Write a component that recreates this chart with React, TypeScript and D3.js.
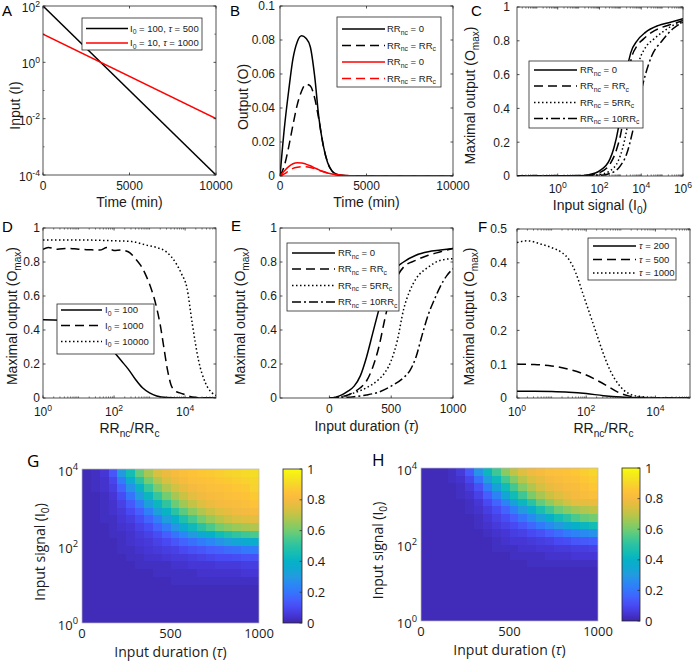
import React from 'react';
import * as d3 from 'd3';

const FONT = '"Liberation Sans", Arial, Helvetica, sans-serif';
const FONT_HM = '"Open Sans", "Liberation Sans", sans-serif';
const AXIS = '#262626';
const TXT = '#1a1a1a';

// ---------------- Panel A ----------------
const aTime = [0, 10000];
const aBlack = [100, 0.0001];
const aRed = [10, 0.01];

// ---------------- Panel B ----------------
const bTime = [0, 250, 500, 750, 1000, 1250, 1500, 1750, 2000, 2250, 2500, 2750, 3000, 3250, 3500, 4000, 5000, 10000];
const bBlackSolid = [0, 0.028, 0.05, 0.069, 0.079, 0.0825, 0.081, 0.076, 0.059, 0.034, 0.018, 0.008, 0.003, 0.0012, 0.0004, 0.0001, 0, 0];
const bBlackDashed = [0, 0.006, 0.017, 0.03, 0.042, 0.05, 0.054, 0.053, 0.046, 0.033, 0.018, 0.008, 0.003, 0.0012, 0.0004, 0.0001, 0, 0];
const bRedSolid = [0, 0.003, 0.0055, 0.0072, 0.0078, 0.0077, 0.007, 0.006, 0.0048, 0.0036, 0.0026, 0.0018, 0.0012, 0.0008, 0.0005, 0.0002, 0, 0];
const bRedDashed = [0, 0.0012, 0.003, 0.0045, 0.0052, 0.0055, 0.0054, 0.005, 0.0043, 0.0034, 0.0025, 0.0018, 0.0012, 0.0008, 0.0005, 0.0002, 0, 0];

// ---------------- Panel C (x = log10 I0) ----------------
const cSolidX = [-2, 0, 1, 1.5, 2, 2.5, 2.7, 2.9, 3.1, 3.3, 3.5, 3.8, 4.2, 4.8, 5.4, 6];
const cSolidY = [0, 0, 0.002, 0.008, 0.03, 0.1, 0.17, 0.28, 0.45, 0.62, 0.73, 0.8, 0.85, 0.89, 0.91, 0.93];
const cDashX = [-2, 1, 1.5, 2, 2.5, 2.8, 3.05, 3.3, 3.5, 3.8, 4.1, 4.5, 5, 5.5, 6];
const cDashY = [0, 0.001, 0.005, 0.02, 0.07, 0.15, 0.27, 0.5, 0.68, 0.77, 0.81, 0.85, 0.88, 0.9, 0.92];
const cDotX = [-2, 1.5, 2, 2.5, 2.9, 3.1, 3.3, 3.6, 3.9, 4.2, 4.6, 5, 5.5, 6];
const cDotY = [0, 0.002, 0.008, 0.03, 0.09, 0.16, 0.27, 0.5, 0.68, 0.76, 0.81, 0.85, 0.89, 0.91];
const cDashDotX = [-2, 2, 2.5, 3, 3.3, 3.6, 3.9, 4.2, 4.5, 5, 5.5, 6];
const cDashDotY = [0, 0.004, 0.015, 0.06, 0.13, 0.27, 0.45, 0.6, 0.71, 0.8, 0.87, 0.91];

// ---------------- Panel D (x = log10 RRnc/RRc) ----------------
const dSolidX = [0, 0.5, 1, 1.3, 1.6, 1.8, 2, 2.2, 2.4, 2.6, 2.8, 3, 3.2, 3.5, 4, 4.87];
const dSolidY = [0.46, 0.458, 0.45, 0.42, 0.37, 0.32, 0.27, 0.22, 0.17, 0.11, 0.06, 0.03, 0.012, 0.003, 0, 0];
const dDashX = [0, 0.15, 0.4, 0.7, 1, 1.3, 1.6, 1.8, 2, 2.2, 2.4, 2.6, 2.75, 2.9, 3.05, 3.2, 3.3, 3.4, 3.5, 3.6, 3.7, 3.85, 4, 4.2, 4.5, 4.87];
const dDashY = [0.875, 0.885, 0.875, 0.88, 0.875, 0.872, 0.87, 0.885, 0.868, 0.87, 0.86, 0.82, 0.78, 0.72, 0.64, 0.53, 0.43, 0.3, 0.17, 0.08, 0.045, 0.03, 0.02, 0.006, 0.001, 0];
const dDotX = [0, 0.5, 1, 1.5, 2, 2.5, 2.9, 3.2, 3.47, 3.75, 3.9, 4.05, 4.2, 4.38, 4.57, 4.76, 4.87];
const dDotY = [0.93, 0.93, 0.93, 0.928, 0.925, 0.92, 0.9, 0.885, 0.86, 0.79, 0.73, 0.65, 0.44, 0.22, 0.09, 0.03, 0.015];

// ---------------- Panel E (x = tau) ----------------
const eSolidX = [0, 50, 100, 150, 200, 250, 300, 350, 400, 450, 500, 600, 700, 800, 900, 1000];
const eSolidY = [0, 0.005, 0.018, 0.04, 0.07, 0.13, 0.24, 0.38, 0.52, 0.65, 0.73, 0.8, 0.84, 0.86, 0.87, 0.88];
const eDashX = [0, 50, 100, 150, 200, 250, 300, 350, 400, 450, 500, 600, 700, 800, 900, 1000];
const eDashY = [0, 0.002, 0.008, 0.018, 0.035, 0.06, 0.1, 0.18, 0.3, 0.47, 0.62, 0.77, 0.81, 0.84, 0.86, 0.88];
const eDotX = [0, 100, 200, 300, 400, 450, 500, 550, 600, 650, 700, 800, 900, 1000];
const eDotY = [0, 0.008, 0.03, 0.06, 0.11, 0.15, 0.22, 0.34, 0.52, 0.63, 0.7, 0.77, 0.81, 0.82];
const eDashDotX = [0, 100, 200, 300, 400, 500, 600, 650, 700, 750, 800, 850, 900, 950, 1000];
const eDashDotY = [0, 0.002, 0.008, 0.018, 0.035, 0.07, 0.12, 0.16, 0.24, 0.37, 0.49, 0.58, 0.66, 0.72, 0.76];

// ---------------- Panel F (x = log10 RRnc/RRc) ----------------
const fSolidX = [0, 0.5, 1, 1.5, 2, 2.5, 3, 3.5, 4, 5];
const fSolidY = [0.02, 0.0198, 0.019, 0.017, 0.013, 0.007, 0.003, 0.001, 0.0002, 0];
const fDashX = [0, 0.5, 1, 1.5, 2, 2.3, 2.6, 2.9, 3.2, 3.5, 4, 5];
const fDashY = [0.1, 0.099, 0.095, 0.085, 0.068, 0.053, 0.036, 0.018, 0.007, 0.002, 0, 0];
const fDotX = [0, 0.3, 0.7, 1, 1.3, 1.5, 1.7, 1.9, 2.1, 2.3, 2.5, 2.7, 2.9, 3.1, 3.3, 3.6, 4, 5];
const fDotY = [0.46, 0.465, 0.455, 0.445, 0.43, 0.41, 0.37, 0.31, 0.25, 0.19, 0.13, 0.08, 0.045, 0.022, 0.01, 0.004, 0.001, 0];

// ---------------- Heatmaps (rows top = I0 1e4 -> bottom = 1e0; cols tau 0 -> 1000) ----------------
const heatTauEdges = [0, 50, 100, 150, 200, 250, 300, 350, 400, 450, 500, 550, 600, 650, 700, 750, 800, 850, 900, 950, 1000];
const heatLogI0Edges = [4, 3.8, 3.6, 3.4, 3.2, 3, 2.8, 2.6, 2.4, 2.2, 2, 1.8, 1.6, 1.4, 1.2, 1, 0.8, 0.6, 0.4, 0.2, 0];
const heatG = [
  [0.02, 0.03, 0.05, 0.13, 0.30, 0.45, 0.58, 0.67, 0.74, 0.78, 0.81, 0.83, 0.85, 0.86, 0.87, 0.88, 0.89, 0.90, 0.91, 0.92],
  [0.02, 0.03, 0.04, 0.09, 0.22, 0.37, 0.50, 0.60, 0.68, 0.74, 0.78, 0.81, 0.83, 0.84, 0.85, 0.86, 0.87, 0.88, 0.89, 0.90],
  [0.02, 0.03, 0.04, 0.07, 0.16, 0.28, 0.41, 0.52, 0.61, 0.68, 0.73, 0.77, 0.80, 0.82, 0.83, 0.84, 0.85, 0.86, 0.87, 0.89],
  [0.02, 0.02, 0.03, 0.05, 0.11, 0.20, 0.31, 0.42, 0.52, 0.60, 0.67, 0.72, 0.76, 0.79, 0.81, 0.82, 0.83, 0.84, 0.85, 0.87],
  [0.02, 0.02, 0.03, 0.04, 0.08, 0.14, 0.22, 0.32, 0.42, 0.51, 0.59, 0.66, 0.71, 0.75, 0.78, 0.80, 0.81, 0.82, 0.83, 0.85],
  [0.02, 0.02, 0.03, 0.04, 0.06, 0.10, 0.15, 0.23, 0.32, 0.41, 0.50, 0.57, 0.63, 0.68, 0.72, 0.75, 0.77, 0.79, 0.80, 0.81],
  [0.02, 0.02, 0.03, 0.03, 0.05, 0.07, 0.11, 0.16, 0.23, 0.31, 0.39, 0.47, 0.54, 0.60, 0.65, 0.69, 0.72, 0.74, 0.75, 0.76],
  [0.02, 0.02, 0.02, 0.03, 0.04, 0.05, 0.08, 0.11, 0.16, 0.22, 0.29, 0.36, 0.43, 0.50, 0.55, 0.60, 0.63, 0.65, 0.67, 0.68],
  [0.02, 0.02, 0.02, 0.03, 0.03, 0.04, 0.06, 0.08, 0.11, 0.15, 0.20, 0.25, 0.30, 0.35, 0.40, 0.44, 0.48, 0.51, 0.53, 0.55],
  [0.02, 0.02, 0.02, 0.02, 0.03, 0.04, 0.05, 0.06, 0.08, 0.10, 0.13, 0.16, 0.19, 0.22, 0.25, 0.28, 0.31, 0.34, 0.36, 0.38],
  [0.02, 0.02, 0.02, 0.02, 0.03, 0.03, 0.04, 0.05, 0.06, 0.07, 0.08, 0.10, 0.12, 0.13, 0.15, 0.16, 0.18, 0.19, 0.21, 0.22],
  [0.02, 0.02, 0.02, 0.02, 0.02, 0.03, 0.03, 0.04, 0.04, 0.05, 0.06, 0.06, 0.07, 0.08, 0.09, 0.10, 0.10, 0.11, 0.12, 0.12],
  [0.02, 0.02, 0.02, 0.02, 0.02, 0.02, 0.03, 0.03, 0.03, 0.03, 0.04, 0.04, 0.05, 0.05, 0.05, 0.06, 0.06, 0.06, 0.07, 0.07],
  [0.02, 0.02, 0.02, 0.02, 0.02, 0.02, 0.02, 0.02, 0.03, 0.03, 0.03, 0.03, 0.03, 0.04, 0.04, 0.04, 0.04, 0.04, 0.05, 0.05],
  [0.02, 0.02, 0.02, 0.02, 0.02, 0.02, 0.02, 0.02, 0.02, 0.02, 0.03, 0.03, 0.03, 0.03, 0.03, 0.03, 0.03, 0.03, 0.03, 0.03],
  [0.02, 0.02, 0.02, 0.02, 0.02, 0.02, 0.02, 0.02, 0.02, 0.02, 0.02, 0.02, 0.02, 0.02, 0.02, 0.02, 0.02, 0.02, 0.02, 0.02],
  [0.02, 0.02, 0.02, 0.02, 0.02, 0.02, 0.02, 0.02, 0.02, 0.02, 0.02, 0.02, 0.02, 0.02, 0.02, 0.02, 0.02, 0.02, 0.02, 0.02],
  [0.02, 0.02, 0.02, 0.02, 0.02, 0.02, 0.02, 0.02, 0.02, 0.02, 0.02, 0.02, 0.02, 0.02, 0.02, 0.02, 0.02, 0.02, 0.02, 0.02],
  [0.02, 0.02, 0.02, 0.02, 0.02, 0.02, 0.02, 0.02, 0.02, 0.02, 0.02, 0.02, 0.02, 0.02, 0.02, 0.02, 0.02, 0.02, 0.02, 0.02],
  [0.02, 0.02, 0.02, 0.02, 0.02, 0.02, 0.02, 0.02, 0.02, 0.02, 0.02, 0.02, 0.02, 0.02, 0.02, 0.02, 0.02, 0.02, 0.02, 0.02],
];
const heatH = [
  [0.02, 0.02, 0.02, 0.03, 0.06, 0.14, 0.28, 0.42, 0.53, 0.63, 0.70, 0.75, 0.79, 0.81, 0.83, 0.84, 0.85, 0.86, 0.88, 0.90],
  [0.02, 0.02, 0.02, 0.03, 0.04, 0.09, 0.19, 0.31, 0.43, 0.54, 0.62, 0.69, 0.74, 0.77, 0.80, 0.82, 0.83, 0.84, 0.86, 0.88],
  [0.02, 0.02, 0.02, 0.02, 0.03, 0.06, 0.12, 0.22, 0.33, 0.44, 0.54, 0.62, 0.68, 0.73, 0.77, 0.79, 0.81, 0.82, 0.84, 0.86],
  [0.02, 0.02, 0.02, 0.02, 0.03, 0.04, 0.08, 0.15, 0.24, 0.34, 0.44, 0.53, 0.61, 0.67, 0.72, 0.75, 0.78, 0.80, 0.82, 0.83],
  [0.02, 0.02, 0.02, 0.02, 0.02, 0.03, 0.05, 0.10, 0.16, 0.24, 0.33, 0.42, 0.50, 0.58, 0.64, 0.69, 0.73, 0.76, 0.77, 0.78],
  [0.02, 0.02, 0.02, 0.02, 0.02, 0.03, 0.04, 0.07, 0.11, 0.16, 0.23, 0.30, 0.38, 0.46, 0.53, 0.59, 0.63, 0.66, 0.68, 0.70],
  [0.02, 0.02, 0.02, 0.02, 0.02, 0.02, 0.03, 0.05, 0.08, 0.11, 0.15, 0.20, 0.26, 0.32, 0.39, 0.45, 0.50, 0.55, 0.58, 0.60],
  [0.02, 0.02, 0.02, 0.02, 0.02, 0.02, 0.03, 0.04, 0.06, 0.08, 0.10, 0.13, 0.17, 0.21, 0.26, 0.30, 0.35, 0.39, 0.42, 0.45],
  [0.02, 0.02, 0.02, 0.02, 0.02, 0.02, 0.02, 0.03, 0.04, 0.05, 0.07, 0.08, 0.10, 0.12, 0.15, 0.18, 0.21, 0.24, 0.26, 0.28],
  [0.02, 0.02, 0.02, 0.02, 0.02, 0.02, 0.02, 0.02, 0.03, 0.04, 0.05, 0.05, 0.06, 0.07, 0.08, 0.10, 0.11, 0.13, 0.14, 0.15],
  [0.02, 0.02, 0.02, 0.02, 0.02, 0.02, 0.02, 0.02, 0.03, 0.03, 0.03, 0.04, 0.04, 0.05, 0.05, 0.06, 0.06, 0.07, 0.07, 0.08],
  [0.02, 0.02, 0.02, 0.02, 0.02, 0.02, 0.02, 0.02, 0.02, 0.02, 0.03, 0.03, 0.03, 0.03, 0.04, 0.04, 0.04, 0.05, 0.05, 0.05],
  [0.02, 0.02, 0.02, 0.02, 0.02, 0.02, 0.02, 0.02, 0.02, 0.02, 0.02, 0.02, 0.03, 0.03, 0.03, 0.03, 0.03, 0.03, 0.03, 0.03],
  [0.02, 0.02, 0.02, 0.02, 0.02, 0.02, 0.02, 0.02, 0.02, 0.02, 0.02, 0.02, 0.02, 0.02, 0.02, 0.02, 0.02, 0.02, 0.02, 0.02],
  [0.02, 0.02, 0.02, 0.02, 0.02, 0.02, 0.02, 0.02, 0.02, 0.02, 0.02, 0.02, 0.02, 0.02, 0.02, 0.02, 0.02, 0.02, 0.02, 0.02],
  [0.02, 0.02, 0.02, 0.02, 0.02, 0.02, 0.02, 0.02, 0.02, 0.02, 0.02, 0.02, 0.02, 0.02, 0.02, 0.02, 0.02, 0.02, 0.02, 0.02],
  [0.02, 0.02, 0.02, 0.02, 0.02, 0.02, 0.02, 0.02, 0.02, 0.02, 0.02, 0.02, 0.02, 0.02, 0.02, 0.02, 0.02, 0.02, 0.02, 0.02],
  [0.02, 0.02, 0.02, 0.02, 0.02, 0.02, 0.02, 0.02, 0.02, 0.02, 0.02, 0.02, 0.02, 0.02, 0.02, 0.02, 0.02, 0.02, 0.02, 0.02],
  [0.02, 0.02, 0.02, 0.02, 0.02, 0.02, 0.02, 0.02, 0.02, 0.02, 0.02, 0.02, 0.02, 0.02, 0.02, 0.02, 0.02, 0.02, 0.02, 0.02],
  [0.02, 0.02, 0.02, 0.02, 0.02, 0.02, 0.02, 0.02, 0.02, 0.02, 0.02, 0.02, 0.02, 0.02, 0.02, 0.02, 0.02, 0.02, 0.02, 0.02],
];
const colorbarTicks = [0, 0.2, 0.4, 0.6, 0.8, 1];
// parula colormap (original MATLAB variant), stops at 0, 0.05, ..., 1
const parulaStops = [
  '#3e26a8', '#4536d5', '#4849f2', '#455efd', '#3575fc', '#2b87f5', '#239ae0', '#0fa8d1', '#06b1c7', '#14bdb3',
  '#2bc2a3', '#4ac98c', '#73cc70', '#99c959', '#bfc447', '#debf40', '#f5ba40', '#fec238', '#f7d62b', '#f5e81c', '#f9fb0e',
];

// ---------------- helpers ----------------
const DASHED = '9,5';
const DOTTED = '1.5,2.5';
const DASHDOT = '9,3,2,3';

type Part = string | [string, string];
function rich(parts: Part[], fs: number) {
  let cur = 0;
  return parts.map((p, i) => {
    const txt = typeof p === 'string' ? p : p[0];
    const kind = typeof p === 'string' ? 'n' : p[1];
    const target = kind === 'sub' ? fs * 0.3 : kind === 'sup' ? -fs * 0.45 : 0;
    const dy = target - cur;
    cur = target;
    return (
      <tspan key={i} dy={dy !== 0 ? dy : undefined}
        fontSize={kind === 'sub' || kind === 'sup' ? fs * 0.72 : undefined}
        fontStyle={kind === 'it' ? 'italic' : undefined}>{txt}</tspan>
    );
  });
}
const pow = (e: number, fs: number) => rich(['10', [String(e), 'sup']], fs);

function logMinor(lo: number, hi: number, majorsExp: number[]) {
  const out: number[] = [];
  for (let d = Math.floor(lo); d <= Math.ceil(hi); d++) {
    for (let k = 1; k <= 9; k++) {
      const v = k * Math.pow(10, d);
      const e = Math.log10(v);
      if (e < lo - 1e-9 || e > hi + 1e-9) continue;
      if (k === 1 && majorsExp.includes(d)) continue;
      out.push(v);
    }
  }
  return out;
}

type Line = { x: number[]; y: number[]; color: string; dash?: string };
type Tick = { v: number; label: any };
type Cfg = {
  id: string; l: number; r: number; t: number; b: number;
  x: any; y: any;
  xTicks: Tick[]; yTicks: Tick[]; xMinor?: number[]; yMinor?: number[];
  xTickY: number; yTickX: number; yTickDy: number;
  lines: Line[];
  leg: { l: number; r: number; t: number; b: number; lx0: number; lx1: number; tx: number; ys: number[]; items: { color: string; dash?: string; label: any }[] };
  xLabel: any; xLabelY: number; yLabel: any; yLabelX: number; yLabelOff: number;
  letter: string; letterX: number; letterY: number;
};

const TFS = 12; // tick font
const LFS = 14; // label font
const GFS = 9.5; // legend font

function Panel({ c }: { c: Cfg }) {
  const gen = d3.line<[number, number]>().x(d => c.x(d[0])).y(d => c.y(d[1])).curve(d3.curveMonotoneX);
  const TL = 2.5, TM = 1.6;
  const cx = (c.l + c.r) / 2, cy = (c.t + c.b) / 2;
  return (
    <g>
      <defs>
        <clipPath id={'clip' + c.id}><rect x={c.l} y={c.t} width={c.r - c.l} height={c.b - c.t} /></clipPath>
      </defs>
      <g clipPath={`url(#clip${c.id})`}>
        {c.lines.map((ln, i) => (
          <path key={i} d={gen(ln.x.map((xv, j) => [xv, ln.y[j]] as [number, number])) || ''}
            fill="none" stroke={ln.color} strokeWidth={1.5} strokeDasharray={ln.dash} />
        ))}
      </g>
      <rect x={c.l} y={c.t} width={c.r - c.l} height={c.b - c.t} fill="none" stroke={AXIS} strokeWidth={0.8} />
      {c.xTicks.map((tk, i) => {
        const px = c.x(tk.v);
        return (
          <g key={'xt' + i}>
            <line x1={px} x2={px} y1={c.b} y2={c.b - TL} stroke={AXIS} strokeWidth={0.8} />
            <line x1={px} x2={px} y1={c.t} y2={c.t + TL} stroke={AXIS} strokeWidth={0.8} />
            <text x={px} y={c.xTickY} textAnchor="middle" fontSize={TFS} fill={TXT}>{tk.label}</text>
          </g>
        );
      })}
      {(c.xMinor || []).map((v, i) => {
        const px = c.x(v);
        return (
          <g key={'xm' + i}>
            <line x1={px} x2={px} y1={c.b} y2={c.b - TM} stroke={AXIS} strokeWidth={0.6} />
            <line x1={px} x2={px} y1={c.t} y2={c.t + TM} stroke={AXIS} strokeWidth={0.6} />
          </g>
        );
      })}
      {c.yTicks.map((tk, i) => {
        const py = c.y(tk.v);
        return (
          <g key={'yt' + i}>
            <line x1={c.l} x2={c.l + TL} y1={py} y2={py} stroke={AXIS} strokeWidth={0.8} />
            <line x1={c.r} x2={c.r - TL} y1={py} y2={py} stroke={AXIS} strokeWidth={0.8} />
            <text x={c.yTickX} y={py + c.yTickDy} textAnchor="end" fontSize={TFS} fill={TXT}>{tk.label}</text>
          </g>
        );
      })}
      {(c.yMinor || []).map((v, i) => {
        const py = c.y(v);
        return (
          <g key={'ym' + i}>
            <line x1={c.l} x2={c.l + TM} y1={py} y2={py} stroke={AXIS} strokeWidth={0.6} />
            <line x1={c.r} x2={c.r - TM} y1={py} y2={py} stroke={AXIS} strokeWidth={0.6} />
          </g>
        );
      })}
      <rect x={c.leg.l} y={c.leg.t} width={c.leg.r - c.leg.l} height={c.leg.b - c.leg.t} fill="#fff" stroke={AXIS} strokeWidth={0.8} />
      {c.leg.items.map((it, i) => (
        <g key={'lg' + i}>
          <line x1={c.leg.lx0} x2={c.leg.lx1} y1={c.leg.ys[i]} y2={c.leg.ys[i]} stroke={it.color} strokeWidth={1.5} strokeDasharray={it.dash} />
          <text x={c.leg.tx} y={c.leg.ys[i] + 3} fontSize={GFS} fill={TXT}>{it.label}</text>
        </g>
      ))}
      <text x={cx} y={c.xLabelY} textAnchor="middle" fontSize={LFS} fill={TXT}>{c.xLabel}</text>
      <text transform={`translate(${c.yLabelX},${cy + c.yLabelOff}) rotate(-90)`} dy="0.35em" textAnchor="middle" fontSize={LFS} fill={TXT}>{c.yLabel}</text>
      <text x={c.letterX} y={c.letterY} fontSize={15} fill="#000">{c.letter}</text>
    </g>
  );
}

const lin = (arr: number[]) => arr;
const exp10 = (arr: number[]) => arr.map(e => Math.pow(10, e));

const rrLabels = [
  rich(['RR', ['nc', 'sub'], ' = 0'], GFS),
  rich(['RR', ['nc', 'sub'], ' = RR', ['c', 'sub']], GFS),
  rich(['RR', ['nc', 'sub'], ' = 5RR', ['c', 'sub']], GFS),
  rich(['RR', ['nc', 'sub'], ' = 10RR', ['c', 'sub']], GFS),
];
const omaxLabel = rich(['Maximal output (O', ['max', 'sub'], ')'], LFS);
const rrRatioLabel = rich(['RR', ['nc', 'sub'], '/RR', ['c', 'sub']], LFS);
const tauLabel = rich(['Input duration (', ['τ', 'it'], ')'], LFS);
const yTicks01 = [0, 0.2, 0.4, 0.6, 0.8, 1].map(v => ({ v, label: String(v) }));

function buildPanels(): Cfg[] {
  const A: Cfg = {
    id: 'A', l: 43, r: 216, t: 6, b: 175,
    x: d3.scaleLinear().domain([0, 10000]).range([43, 216]),
    y: d3.scaleLog().domain([1e-4, 1e2]).range([175, 6]),
    xTicks: [0, 5000, 10000].map(v => ({ v, label: String(v) })),
    yTicks: [-4, -2, 0, 2].map(e => ({ v: Math.pow(10, e), label: pow(e, TFS) })),
    yMinor: [-3, -1, 1].map(e => Math.pow(10, e)),
    xTickY: 190, yTickX: 40, yTickDy: 6,
    lines: [
      { x: lin(aTime), y: aBlack, color: '#000' },
      { x: lin(aTime), y: aRed, color: '#ff0000' },
    ],
    leg: {
      l: 82, r: 202, t: 18, b: 50, lx0: 86, lx1: 128, tx: 130, ys: [28.5, 43],
      items: [
        { color: '#000', label: rich(['I', ['0', 'sub'], ' = 100, ', ['τ', 'it'], ' = 500'], GFS) },
        { color: '#ff0000', label: rich(['I', ['0', 'sub'], ' = 10, ', ['τ', 'it'], ' = 1000'], GFS) },
      ],
    },
    xLabel: 'Time (min)', xLabelY: 207, yLabel: 'Input (I)', yLabelX: 15, yLabelOff: 15,
    letter: 'A', letterX: 2, letterY: 16,
  };
  const B: Cfg = {
    id: 'B', l: 280, r: 453, t: 6, b: 176,
    x: d3.scaleLinear().domain([0, 10000]).range([280, 453]),
    y: d3.scaleLinear().domain([0, 0.1]).range([176, 6]),
    xTicks: [0, 5000, 10000].map(v => ({ v, label: String(v) })),
    yTicks: [0, 0.02, 0.04, 0.06, 0.08, 0.1].map(v => ({ v, label: String(v) })),
    xTickY: 190, yTickX: 275, yTickDy: 4.3,
    lines: [
      { x: bTime, y: bBlackSolid, color: '#000' },
      { x: bTime, y: bBlackDashed, color: '#000', dash: DASHED },
      { x: bTime, y: bRedSolid, color: '#ff0000' },
      { x: bTime, y: bRedDashed, color: '#ff0000', dash: DASHED },
    ],
    leg: {
      l: 337, r: 441, t: 17, b: 87, lx0: 342, lx1: 385, tx: 387, ys: [29, 45.5, 62, 78.5],
      items: [
        { color: '#000', label: rrLabels[0] },
        { color: '#000', dash: DASHED, label: rrLabels[1] },
        { color: '#ff0000', label: rrLabels[0] },
        { color: '#ff0000', dash: DASHED, label: rrLabels[1] },
      ],
    },
    xLabel: 'Time (min)', xLabelY: 207, yLabel: 'Output (O)', yLabelX: 243, yLabelOff: 6,
    letter: 'B', letterX: 230, letterY: 16,
  };
  const cLo = -1.95, cHi = 6;
  const C: Cfg = {
    id: 'C', l: 517, r: 683, t: 7, b: 176,
    x: d3.scaleLog().domain([Math.pow(10, cLo), 1e6]).range([517, 683]),
    y: d3.scaleLinear().domain([0, 1]).range([176, 7]),
    xTicks: [0, 2, 4, 6].map(e => ({ v: Math.pow(10, e), label: pow(e, TFS) })),
    xMinor: logMinor(cLo, cHi, [0, 2, 4, 6]),
    yTicks: yTicks01,
    xTickY: 193, yTickX: 510, yTickDy: 4.3,
    lines: [
      { x: exp10(cSolidX), y: cSolidY, color: '#000' },
      { x: exp10(cDashX), y: cDashY, color: '#000', dash: DASHED },
      { x: exp10(cDotX), y: cDotY, color: '#000', dash: DOTTED },
      { x: exp10(cDashDotX), y: cDashDotY, color: '#000', dash: DASHDOT },
    ],
    leg: {
      l: 529, r: 643, t: 61, b: 128, lx0: 534, lx1: 577, tx: 580, ys: [70, 86, 102.5, 118.5],
      items: [
        { color: '#000', label: rrLabels[0] },
        { color: '#000', dash: DASHED, label: rrLabels[1] },
        { color: '#000', dash: DOTTED, label: rrLabels[2] },
        { color: '#000', dash: DASHDOT, label: rrLabels[3] },
      ],
    },
    xLabel: rich(['Input signal (I', ['0', 'sub'], ')'], LFS), xLabelY: 210, yLabel: omaxLabel, yLabelX: 470, yLabelOff: 4,
    letter: 'C', letterX: 471, letterY: 16,
  };
  const dHi = 4.87;
  const D: Cfg = {
    id: 'D', l: 43, r: 216, t: 228, b: 398,
    x: d3.scaleLog().domain([1, Math.pow(10, dHi)]).range([43, 216]),
    y: d3.scaleLinear().domain([0, 1]).range([398, 228]),
    xTicks: [0, 2, 4].map(e => ({ v: Math.pow(10, e), label: pow(e, TFS) })),
    xMinor: logMinor(0, dHi, [0, 2, 4]),
    yTicks: yTicks01,
    xTickY: 416, yTickX: 40, yTickDy: 4.3,
    lines: [
      { x: exp10(dSolidX), y: dSolidY, color: '#000' },
      { x: exp10(dDashX), y: dDashY, color: '#000', dash: DASHED },
      { x: exp10(dDotX), y: dDotY, color: '#000', dash: DOTTED },
    ],
    leg: {
      l: 57, r: 154, t: 304, b: 354, lx0: 61, lx1: 102, tx: 105, ys: [310, 325.5, 341.5],
      items: [
        { color: '#000', label: rich(['I', ['0', 'sub'], ' = 100'], GFS) },
        { color: '#000', dash: DASHED, label: rich(['I', ['0', 'sub'], ' = 1000'], GFS) },
        { color: '#000', dash: DOTTED, label: rich(['I', ['0', 'sub'], ' = 10000'], GFS) },
      ],
    },
    xLabel: rrRatioLabel, xLabelY: 433, yLabel: omaxLabel, yLabelX: 12, yLabelOff: 3,
    letter: 'D', letterX: 2, letterY: 232,
  };
  const E: Cfg = {
    id: 'E', l: 280, r: 453, t: 228, b: 398,
    x: d3.scaleLinear().domain([-400, 1000]).range([280, 453]),
    y: d3.scaleLinear().domain([0, 1]).range([398, 228]),
    xTicks: [0, 500, 1000].map(v => ({ v, label: String(v) })),
    yTicks: yTicks01,
    xTickY: 413, yTickX: 277, yTickDy: 4.3,
    lines: [
      { x: eSolidX, y: eSolidY, color: '#000' },
      { x: eDashX, y: eDashY, color: '#000', dash: DASHED },
      { x: eDotX, y: eDotY, color: '#000', dash: DOTTED },
      { x: eDashDotX, y: eDashDotY, color: '#000', dash: DASHDOT },
    ],
    leg: {
      l: 287, r: 399, t: 243, b: 311, lx0: 292, lx1: 335, tx: 338, ys: [253, 269, 285.5, 302],
      items: [
        { color: '#000', label: rrLabels[0] },
        { color: '#000', dash: DASHED, label: rrLabels[1] },
        { color: '#000', dash: DOTTED, label: rrLabels[2] },
        { color: '#000', dash: DASHDOT, label: rrLabels[3] },
      ],
    },
    xLabel: tauLabel, xLabelY: 431, yLabel: omaxLabel, yLabelX: 240, yLabelOff: 3,
    letter: 'E', letterX: 231, letterY: 231,
  };
  const F: Cfg = {
    id: 'F', l: 517, r: 690, t: 229, b: 398,
    x: d3.scaleLog().domain([1, 1e5]).range([517, 690]),
    y: d3.scaleLinear().domain([0, 0.5]).range([398, 229]),
    xTicks: [0, 2, 4].map(e => ({ v: Math.pow(10, e), label: pow(e, TFS) })),
    xMinor: logMinor(0, 5, [0, 2, 4]),
    yTicks: [0, 0.1, 0.2, 0.3, 0.4, 0.5].map(v => ({ v, label: String(v) })),
    xTickY: 416, yTickX: 507, yTickDy: 4.3,
    lines: [
      { x: exp10(fSolidX), y: fSolidY, color: '#000' },
      { x: exp10(fDashX), y: fDashY, color: '#000', dash: DASHED },
      { x: exp10(fDotX), y: fDotY, color: '#000', dash: DOTTED },
    ],
    leg: {
      l: 588, r: 676, t: 238, b: 280, lx0: 593, lx1: 636, tx: 639, ys: [246, 259.5, 273],
      items: [
        { color: '#000', label: rich([['τ', 'it'], ' = 200'], GFS) },
        { color: '#000', dash: DASHED, label: rich([['τ', 'it'], ' = 500'], GFS) },
        { color: '#000', dash: DOTTED, label: rich([['τ', 'it'], ' = 1000'], GFS) },
      ],
    },
    xLabel: rrRatioLabel, xLabelY: 433, yLabel: omaxLabel, yLabelX: 469, yLabelOff: 3,
    letter: 'F', letterX: 478, letterY: 232,
  };
  return [A, B, C, D, E, F];
}

const parula = d3.scaleLinear<string>()
  .domain(parulaStops.map((_, i) => i / (parulaStops.length - 1)))
  .range(parulaStops)
  .interpolate(d3.interpolateRgb)
  .clamp(true);

type HCfg = {
  id: string; data: number[][]; l: number; r: number; t: number; b: number;
  cbL: number; cbR: number; cbLabelX: number; yTickX: number; yLabelX: number;
  letter: string; letterX: number;
};

const HT = 13, HL = 14;

function Heat({ h }: { h: HCfg }) {
  const xs = d3.scaleLinear().domain([0, 1000]).range([h.l, h.r]);
  const ys = d3.scaleLog().domain([1, 1e4]).range([h.b, h.t]);
  const cs = d3.scaleLinear().domain([0, 1]).range([h.b, h.t]);
  const cells: any[] = [];
  h.data.forEach((row, ri) => {
    row.forEach((v, ci) => {
      const x0 = xs(heatTauEdges[ci]), x1 = xs(heatTauEdges[ci + 1]);
      const y0 = ys(Math.pow(10, heatLogI0Edges[ri])), y1 = ys(Math.pow(10, heatLogI0Edges[ri + 1]));
      cells.push(<rect key={ri + '-' + ci} x={x0} y={y0} width={x1 - x0 + 0.4} height={y1 - y0 + 0.4} fill={parula(v)} />);
    });
  });
  const cx = (h.l + h.r) / 2, cy = (h.t + h.b) / 2;
  return (
    <g fontFamily={FONT_HM}>
      <defs>
        <linearGradient id={'grad' + h.id} x1="0" y1="1" x2="0" y2="0">
          {parulaStops.map((col, i) => <stop key={i} offset={i / (parulaStops.length - 1)} stopColor={col} />)}
        </linearGradient>
        <clipPath id={'hc' + h.id}><rect x={h.l} y={h.t} width={h.r - h.l} height={h.b - h.t} /></clipPath>
      </defs>
      <g clipPath={`url(#hc${h.id})`} shapeRendering="crispEdges">{cells}</g>
      <rect x={h.l} y={h.t} width={h.r - h.l} height={h.b - h.t} fill="none" stroke="#b8b8b8" strokeWidth={0.7} />
      {[0, 500, 1000].map(v => (
        <text key={'x' + v} x={xs(v)} y={h.b + 15} textAnchor="middle" fontSize={HT} fill={TXT}>{v}</text>
      ))}
      {[0, 2, 4].map(e => (
        <text key={'y' + e} x={h.yTickX} y={ys(Math.pow(10, e)) + 6.5} textAnchor="end" fontSize={HT} fill={TXT}>{pow(e, HT)}</text>
      ))}
      <text x={cx} y={h.b + 33.5} textAnchor="middle" fontSize={HL} fill={TXT}>{rich(['Input duration (', ['τ', 'it'], ')'], HL)}</text>
      <text transform={`translate(${h.yLabelX},${cy + 6}) rotate(-90)`} dy="0.35em" textAnchor="middle" fontSize={HL} fill={TXT}>
        {rich(['Input signal (I', ['0', 'sub'], ')'], HL)}
      </text>
      <rect x={h.cbL} y={h.t} width={h.cbR - h.cbL} height={h.b - h.t} fill={`url(#grad${h.id})`} stroke={AXIS} strokeWidth={0.8} />
      {colorbarTicks.map(v => (
        <g key={'c' + v}>
          <line x1={h.cbR} x2={h.cbR - 2.5} y1={cs(v)} y2={cs(v)} stroke={AXIS} strokeWidth={0.7} />
          <text x={h.cbLabelX} y={cs(v) + 4.5} fontSize={HT} fill={TXT}>{String(v)}</text>
        </g>
      ))}
      <text x={h.letterX} y={h.t - 2} fontSize={17} fill="#000">{h.letter}</text>
    </g>
  );
}

export default function App() {
  const panels = buildPanels();
  const G: HCfg = { id: 'G', data: heatG, l: 82, r: 259, t: 469, b: 623, cbL: 283, cbR: 302, cbLabelX: 307, yTickX: 78, yLabelX: 40, letter: 'G', letterX: 27 };
  const H: HCfg = { id: 'H', data: heatH, l: 421, r: 598, t: 468, b: 621, cbL: 622, cbR: 640, cbLabelX: 645, yTickX: 417, yLabelX: 378, letter: 'H', letterX: 372 };
  return (
    <svg width={700} height={662} style={{ position: 'absolute', left: 0, top: 0 }} fontFamily={FONT}>
      <rect width={700} height={662} fill="#fff" />
      {panels.map(p => <Panel key={p.id} c={p} />)}
      <Heat h={G} />
      <Heat h={H} />
    </svg>
  );
}
